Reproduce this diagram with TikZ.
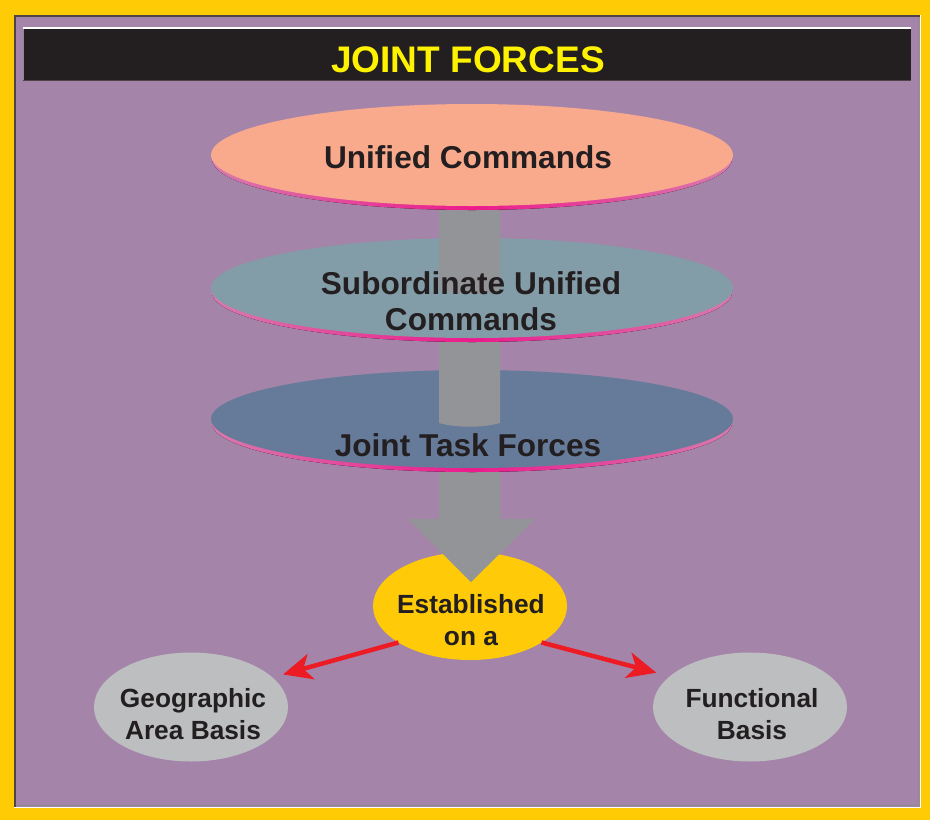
\documentclass[tikz,border=0pt]{standalone}
\usepackage{fontspec}
\setmainfont{Liberation Sans}
\usetikzlibrary{arrows.meta,shapes.geometric}
\definecolor{frameyellow}{HTML}{FFCB05}
\definecolor{bgpurple}{HTML}{A584AA}
\definecolor{bevdark}{HTML}{4F4249}
\definecolor{bargray}{HTML}{8C8C8C}
\definecolor{barblack}{HTML}{231F20}
\definecolor{titleyellow}{HTML}{FFF200}
\definecolor{salmon}{HTML}{F9A98C}
\definecolor{subblue}{HTML}{829CA8}
\definecolor{jtfblue}{HTML}{657B99}
\definecolor{estyellow}{HTML}{FFCA08}
\definecolor{basisgray}{HTML}{BCBEC0}
\definecolor{shaftgray}{HTML}{929497}
\definecolor{txtdark}{HTML}{231F20}
\definecolor{arrowred}{HTML}{ED1C24}
\definecolor{rimside}{HTML}{D97AAD}
\definecolor{rimmid}{HTML}{EC1A8C}
\tikzset{
  disc/.style={ellipse, minimum width=522pt, minimum height=100pt, inner sep=0pt, outer sep=0pt, draw=none},
  small/.style={ellipse, minimum width=194pt, minimum height=109pt, inner sep=0pt, outer sep=0pt, draw=none},
  rim/.style={left color=rimside, right color=rimside, middle color=rimmid, draw=none},
  shaft/.style={fill=shaftgray, draw=none},
  bigtext/.style={font=\fontsize{31.6}{36}\bfseries\selectfont, text=txtdark, align=center, inner sep=0pt},
  smalltext/.style={font=\fontsize{26.3}{31.5}\bfseries\selectfont, text=txtdark, align=center, inner sep=0pt},
  titletext/.style={font=\fontsize{37}{40}\bfseries\selectfont, text=titleyellow, inner sep=0pt},
  redarrow/.style={draw=arrowred, line width=4.5pt, -{Stealth[length=29pt, width=26pt, inset=8pt]}}
}
\begin{document}
\begin{tikzpicture}[x=1pt,y=-1pt]
\useasboundingbox (0,0) rectangle (930,820);
% frame
\fill[frameyellow] (0,0) rectangle (930,820);
\fill[bgpurple] (14,15) rectangle (921,808);
\draw[bevdark, line width=2pt] (15,808) -- (15,16) -- (921,16);
\draw[white, line width=1.5pt] (14,807.5) -- (920.5,807.5) -- (920.5,15);
\draw[bargray, line width=1pt] (16,805.5) -- (918.5,805.5) -- (918.5,17);
% title bar
\fill[barblack] (23,28) rectangle (911,80);
\draw[white, line width=1.2pt] (23,28) -- (911,28);
\draw[bargray, line width=1pt] (23,28.5) -- (23,80);
\draw[bevdark, line width=1pt] (23,80) -- (911,80);
\node[titletext, anchor=base] (title) at (468,72) {JOINT FORCES};

% lower nodes
\node[small, fill=basisgray] (geo) at (191,707) {};
\node[small, fill=basisgray] (func) at (750,707) {};
\node[small, fill=estyellow, minimum height=108pt] (est) at (470,606) {};
\draw[redarrow, shorten >=11pt] (est.207.9) -- (geo.20.3);
\draw[redarrow, shorten >=14pt] (est.333.1) -- (func.159.8);

% shaft segment 3 with head
\fill[shaft] (439,468) -- (500,468) -- (500,519) -- (535,519) -- (471,582)
  -- (408,519) -- (439,519) -- cycle;
% disc 3
\fill[rim] (472,423) ellipse [x radius=260, y radius=49];
\node[disc, minimum height=98pt, fill=jtfblue] (jtf) at (472,419) {};
% shaft segment 2
\fill[shaft] (439,336) -- (500,336) -- (500,423)
  .. controls (482,428) and (457,428) .. (439,423) -- cycle;
% disc 2
\fill[rim] (472,292) ellipse [x radius=260, y radius=50];
\node[disc, fill=subblue] (sub) at (472,288) {};
% shaft segment 1
\fill[shaft] (439,203) -- (500,203) -- (500,290)
  .. controls (482,295) and (457,295) .. (439,290) -- cycle;
% disc 1
\fill[rim] (472,159) ellipse [x radius=260, y radius=51];
\node[disc, minimum height=102pt, fill=salmon] (uc) at (472,155) {};

% texts
\node[bigtext, anchor=base] (tuc) at (468,168) {Unified Commands};
\node[bigtext] (tsub) at (471,301) {Subordinate Unified\\Commands};
\node[bigtext, anchor=base] (tjtf) at (468,456) {Joint Task Forces};
\node[smalltext] (test) at (471,620) {Established\\on a};
\node[smalltext] (tgeo) at (193,714) {Geographic\\Area Basis};
\node[smalltext] (tfunc) at (752,714) {Functional\\Basis};
\end{tikzpicture}
\end{document}
